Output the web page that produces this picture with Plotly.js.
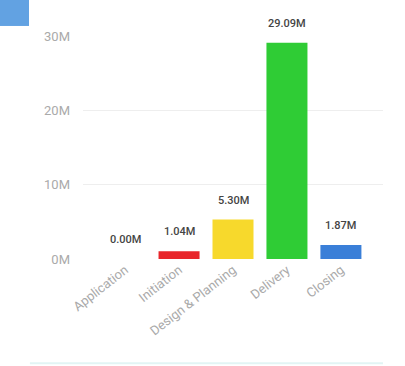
<!DOCTYPE html>
<html><head><meta charset="utf-8">
<script src="https://cdn.plot.ly/plotly-3.0.1.min.js"></script>
<style>html,body{margin:0;padding:0;background:#fff;}#chart{width:405px;height:366px;}</style>
</head><body><div id="chart"></div>
<script>
const categories = ["Application", "Initiation", "Design & Planning", "Delivery", "Closing"];
const values = [0, 1040000, 5300000, 29090000, 1870000];
const barColors = ["#9aa0a6", "#e8262b", "#f7d92c", "#2fcc35", "#3a7fd8"];
const tickVals = [0, 10000000, 20000000, 30000000];
const tickText = ["0M", "10M", "20M", "30M"];

const labels = values.map(v => (v / 1e6).toFixed(2) + "M");

const trace = {
  type: "bar",
  x: categories,
  y: values,
  marker: {color: barColors},
  hoverinfo: "none"
};

const annotations = categories.map((c, i) => ({
  x: c, y: values[i], xref: "x", yref: "y",
  text: labels[i], showarrow: false, yanchor: "bottom", yshift: 11,
  font: {family: "Roboto, sans-serif", size: 11, color: "#444", weight: 500}
}));

const layout = {
  width: 405, height: 366,
  margin: {l: 83, r: 22, t: 36, b: 107},
  paper_bgcolor: "#fff", plot_bgcolor: "#fff",
  showlegend: false,
  bargap: 0.24,
  xaxis: {
    range: [-0.78, 4.78],
    tickangle: -38,
    tickfont: {family: "Roboto, sans-serif", size: 13, color: "#aaa"},
    showgrid: false, zeroline: false, showline: false, ticks: ""
  },
  yaxis: {
    range: [0, 30000000],
    tickvals: tickVals, ticktext: tickText,
    tickfont: {family: "Roboto, sans-serif", size: 13, color: "#aaa"},
    gridcolor: "#eeeeee", zeroline: false, showline: false,
    ticks: "", ticklabelstandoff: 12
  },
  annotations: annotations,
  shapes: [
    {type: "rect", xref: "paper", yref: "paper", x0: -0.277, x1: -0.18, y0: 1.045, y1: 1.17,
     fillcolor: "#62a2e2", line: {width: 0}},
    {type: "line", xref: "paper", yref: "paper", x0: -0.177, x1: 1, y0: -0.468, y1: -0.468,
     line: {color: "#e2f4f4", width: 2}}
  ]
};

Plotly.newPlot("chart", [trace], layout, {displayModeBar: false, staticPlot: true});
</script></body></html>
